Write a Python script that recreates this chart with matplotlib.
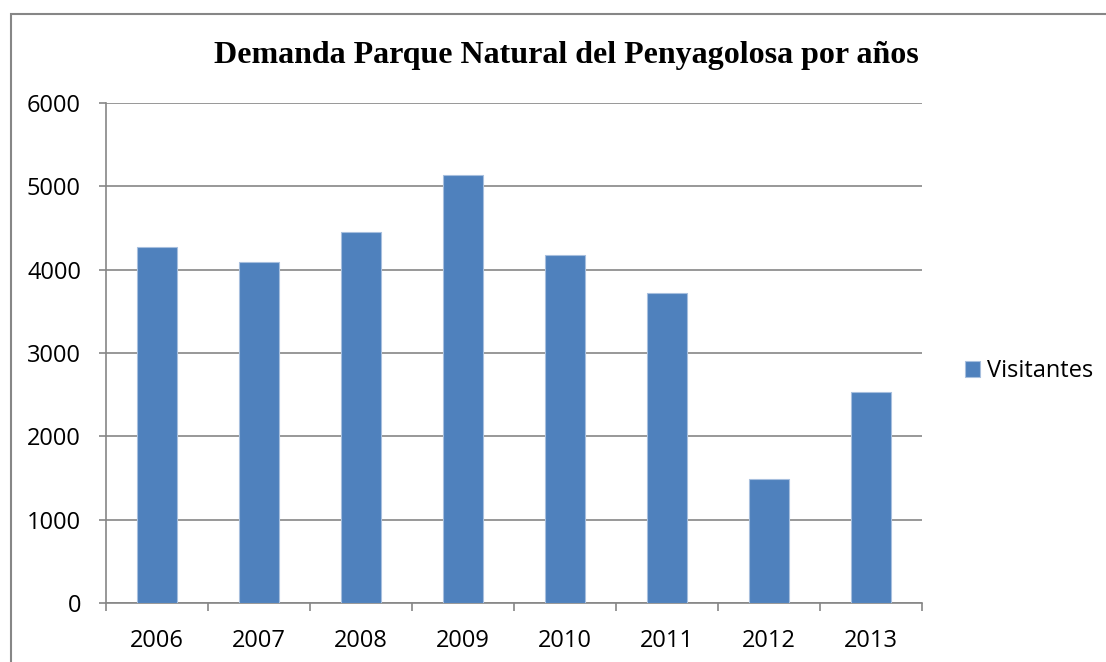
import matplotlib.pyplot as plt
from matplotlib.patches import Rectangle
import numpy as np

years = ['2006', '2007', '2008', '2009', '2010', '2011', '2012', '2013']
visitantes = [4270, 4090, 4450, 5135, 4175, 3722, 1488, 2530]

bar_color = '#4F81BD'
grid_color = '#868686'

fig = plt.figure(figsize=(11.06, 6.62), dpi=100)
ax = fig.add_axes([106 / 1106, 59 / 662, 816 / 1106, 500 / 662])

x = np.arange(len(years))
ax.bar(x, visitantes, width=0.4, color=bar_color, edgecolor='#A7BFDE',
       linewidth=0.8, label='Visitantes', zorder=3)

ax.set_xlim(-0.5, len(years) - 0.5)
ax.set_ylim(0, 6000)
ax.set_yticks(range(0, 6001, 1000))
ax.yaxis.grid(True, color=grid_color, linewidth=1.2, zorder=0)

# category labels centred, ticks on boundaries
ax.set_xticks(x)
ax.set_xticklabels(years)
ax.set_xticks(np.arange(-0.5, len(years)), minor=True)
ax.tick_params(axis='x', which='major', length=0, pad=19)
ax.tick_params(axis='x', which='minor', length=6, color=grid_color, width=1.2)
ax.tick_params(axis='y', length=5, color=grid_color, width=1.2, pad=13)
for lab in ax.get_xticklabels() + ax.get_yticklabels():
    lab.set_fontfamily('Open Sans')
    lab.set_fontsize(17)

for s in ['top', 'right']:
    ax.spines[s].set_visible(False)
for s in ['left', 'bottom']:
    ax.spines[s].set_color(grid_color)
    ax.spines[s].set_linewidth(1.2)

fig.text(566 / 1106, 1 - 55 / 662, 'Demanda Parque Natural del Penyagolosa por años',
         ha='center', va='center', fontsize=23, fontweight='bold',
         family='Liberation Serif')

leg = ax.legend(loc='center left', bbox_to_anchor=(1.0527, 0.464), frameon=False,
                prop={'family': 'Open Sans', 'size': 17},
                borderaxespad=0, borderpad=0,
                handlelength=0.64, handleheight=0.64, handletextpad=0.3)

# outer chart border
fig.patches.append(Rectangle((11 / 1106, -0.05), 1.1, 1 - 14 / 662 + 0.05,
                             transform=fig.transFigure, fill=False,
                             edgecolor=grid_color, linewidth=1.5))

plt.savefig('out.png', dpi=100)
